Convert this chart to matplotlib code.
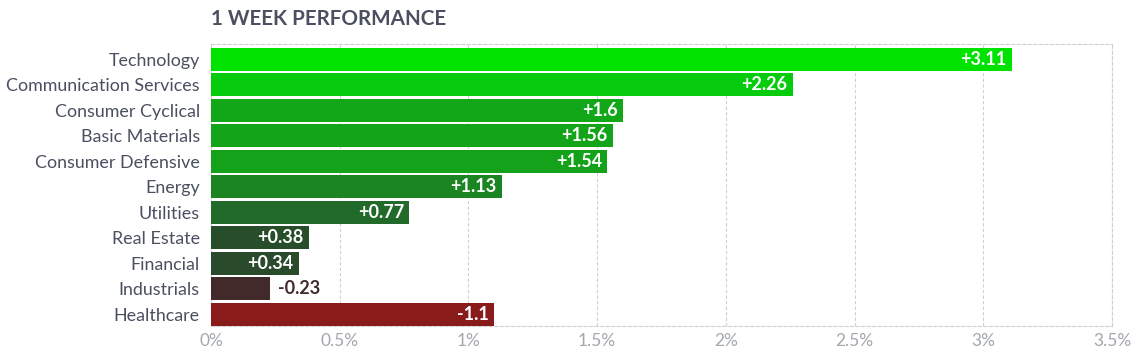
"""1 week sector performance bar chart."""

import matplotlib

matplotlib.use("Agg")

import matplotlib.pyplot as plt

sectors = [
    "Technology",
    "Communication Services",
    "Consumer Cyclical",
    "Basic Materials",
    "Consumer Defensive",
    "Energy",
    "Utilities",
    "Real Estate",
    "Financial",
    "Industrials",
    "Healthcare",
]
changes = [3.11, 2.26, 1.6, 1.56, 1.54, 1.13, 0.77, 0.38, 0.34, -0.23, -1.1]
bar_colors = [
    "#00e200",
    "#06cc0d",
    "#12a619",
    "#13a41a",
    "#14a21a",
    "#1b8621",
    "#226a2a",
    "#284d2b",
    "#294b2c",
    "#422a2a",
    "#8a1b1b",
]
x_ticks = [0, 0.5, 1, 1.5, 2, 2.5, 3, 3.5]
x_tick_labels = ["0%", "0.5%", "1%", "1.5%", "2%", "2.5%", "3%", "3.5%"]

plt.rcParams["font.family"] = ["Lato", "DejaVu Sans"]

fig = plt.figure(figsize=(11.35, 3.52), dpi=100)
axis = fig.add_axes([0.1859, 0.074, 0.7938, 0.801])

positions = list(range(len(sectors)))
widths = [abs(v) for v in changes]
axis.barh(positions, widths, height=0.9, color=bar_colors, zorder=3)

for pos, value, color in zip(positions, changes, bar_colors):
    text = f"{value:+g}"
    if abs(value) >= 0.3:
        axis.text(abs(value) - 0.02, pos, text, ha="right", va="center",
                  color="white", fontsize=13, fontweight="bold", zorder=4)
    else:
        axis.text(abs(value) + 0.03, pos, text, ha="left", va="center",
                  color=color, fontsize=13, fontweight="bold", zorder=4)

axis.set_xlim(0, 3.5)
axis.set_ylim(len(sectors) - 0.55, -0.6)
axis.set_yticks(positions)
axis.set_yticklabels(sectors, fontsize=12.9, color="#4a5060")
axis.set_xticks(x_ticks)
axis.set_xticklabels(x_tick_labels, fontsize=12.5, color="#a3a7ae")
axis.tick_params(length=0, pad=5)
axis.tick_params(axis="y", pad=8)
axis.grid(axis="x", color="#d0d0d4", linestyle=(0, (3, 2)), linewidth=0.8, zorder=0)
for side in ("top", "bottom", "left", "right"):
    axis.spines[side].set_color("#d0d0d4")
    axis.spines[side].set_linestyle((0, (3, 2)))
    axis.spines[side].set_linewidth(0.8)

fig.text(0.1859, 0.945, "1 WEEK PERFORMANCE", fontsize=14.9, fontweight="bold",
         color="#4a5060", ha="left", va="center")

fig.savefig("out.png", dpi=100)
